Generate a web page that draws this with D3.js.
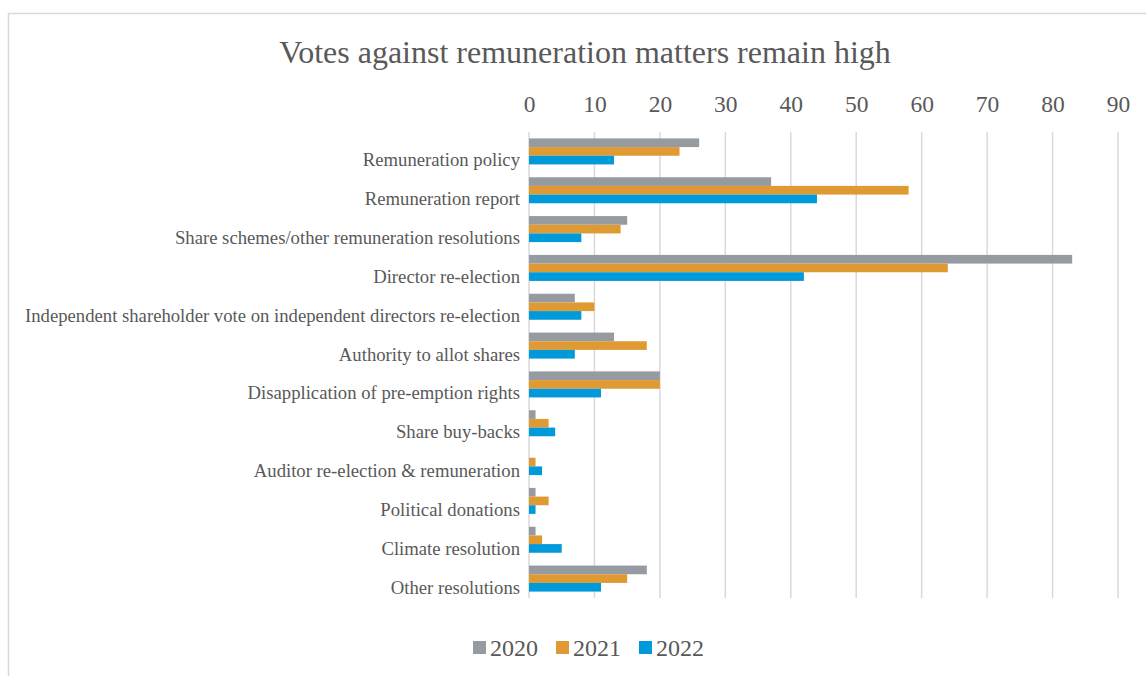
<!DOCTYPE html>
<html>
<head>
<meta charset="utf-8">
<script src="https://cdn.jsdelivr.net/npm/d3@7"></script>
<style>
  body { margin: 0; background: #fff; }
  svg { display: block; }
  text { font-family: "Liberation Serif", "Times New Roman", serif; fill: #595959; }
</style>
</head>
<body>
<svg id="chart" width="1146" height="676"></svg>
<script>
const categories = [
  "Remuneration policy",
  "Remuneration report",
  "Share schemes/other remuneration resolutions",
  "Director re-election",
  "Independent shareholder vote on independent directors re-election",
  "Authority to allot shares",
  "Disapplication of pre-emption rights",
  "Share buy-backs",
  "Auditor re-election & remuneration",
  "Political donations",
  "Climate resolution",
  "Other resolutions"
];
const seriesNames = ["2020", "2021", "2022"];
const values2020 = [26, 37, 15, 83, 7, 13, 20, 1, 0, 1, 1, 18];
const values2021 = [23, 58, 14, 64, 10, 18, 20, 3, 1, 3, 2, 15];
const values2022 = [13, 44, 8, 42, 8, 7, 11, 4, 2, 1, 5, 11];
const tickValues = [0, 10, 20, 30, 40, 50, 60, 70, 80, 90];
const colors = ["#959BA1", "#E09A33", "#009ADA"];
const title = "Votes against remuneration matters remain high";

const seriesValues = [values2020, values2021, values2022];

const svg = d3.select("#chart");

// chart border
svg.append("rect")
  .attr("x", 8.5).attr("y", 13.5)
  .attr("width", 1160).attr("height", 700)
  .attr("fill", "#fff").attr("stroke", "#D9D9D9").attr("stroke-width", 1.5);

const x = d3.scaleLinear().domain([0, 90]).range([529, 1118]);
const y = d3.scaleBand().domain(categories).range([132, 598])
  .paddingInner(0.33).paddingOuter(0.165);
const ySub = d3.scaleBand().domain(seriesNames).range([0, y.bandwidth()]);

// title
svg.append("text")
  .attr("x", 585).attr("y", 63)
  .attr("text-anchor", "middle")
  .style("font-size", "32px")
  .text(title);

// gridlines
svg.append("g").selectAll("line")
  .data(tickValues)
  .join("line")
  .attr("x1", d => x(d)).attr("x2", d => x(d))
  .attr("y1", 132).attr("y2", 598)
  .attr("stroke", "#D9D9D9").attr("stroke-width", 1.5);

// top axis labels
const axis = d3.axisTop(x).tickValues(tickValues).tickSize(0).tickPadding(0);
const axG = svg.append("g").attr("transform", "translate(0,112)").call(axis);
axG.select(".domain").remove();
axG.selectAll("text")
  .style("font-family", '"Liberation Serif", "Times New Roman", serif')
  .style("font-size", "23.5px").attr("fill", "#595959");

// bars
const groups = svg.append("g").selectAll("g")
  .data(categories)
  .join("g")
  .attr("transform", d => `translate(0,${y(d)})`);

groups.selectAll("rect")
  .data((c, i) => seriesNames.map((s, j) => ({ s, j, v: seriesValues[j][i] })))
  .join("rect")
  .attr("x", x(0))
  .attr("y", d => ySub(d.s))
  .attr("width", d => x(d.v) - x(0))
  .attr("height", ySub.bandwidth())
  .attr("fill", d => colors[d.j]);

// category labels
svg.append("g").selectAll("text")
  .data(categories)
  .join("text")
  .attr("x", 520)
  .attr("y", d => y(d) + y.bandwidth() / 2 + 15)
  .attr("text-anchor", "end")
  .style("font-size", "18.7px")
  .text(d => d);

// legend
const legendX = [473, 556, 639];
const lg = svg.append("g").selectAll("g")
  .data(seriesNames)
  .join("g")
  .attr("transform", (d, i) => `translate(${legendX[i]},641)`);
lg.append("rect").attr("width", 13).attr("height", 13).attr("fill", (d, i) => colors[i]);
lg.append("text").attr("x", 17).attr("y", 15)
  .style("font-size", "24px").text(d => d);
</script>
</body>
</html>
